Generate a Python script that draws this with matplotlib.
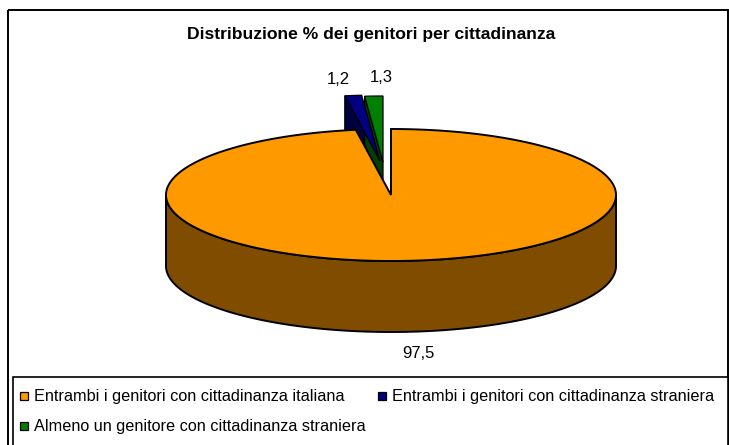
import numpy as np
import matplotlib
matplotlib.use('Agg')
import matplotlib.pyplot as plt
from matplotlib.patches import Polygon, Rectangle

plt.rcParams['font.family'] = ['Liberation Sans', 'DejaVu Sans']

title = 'Distribuzione % dei genitori per cittadinanza'
labels = ['Entrambi i genitori con cittadinanza italiana',
          'Entrambi i genitori con cittadinanza straniera',
          'Almeno un genitore con cittadinanza straniera']
values = [97.5, 1.2, 1.3]
value_labels = ['97,5', '1,2', '1,3']
colors = ['#FF9900', '#000080', '#008000']
side_colors = ['#804D00', '#000040', '#004000']

W, H = 729, 445
rx, ry, depth = 225, 66, 71
cx, cy = 391, 195
# where each small slice tip ends up once pulled out of the pie
tips = [(cx, cy), (380, 161), (383, 162)]

fig = plt.figure(figsize=(W / 100, H / 100), dpi=100)
ax = fig.add_axes([0, 0, 1, 1])
ax.set_xlim(0, W)
ax.set_ylim(H, 0)
ax.axis('off')


def rim(tip, a):
    # a in degrees clockwise from 12 o'clock
    a = np.radians(a)
    return np.column_stack([tip[0] + rx * np.sin(a), tip[1] - ry * np.cos(a)])


bounds = np.cumsum([0] + values) * 3.6

# small slices first, the orange one covers their lower part
for i in [1, 2]:
    tip = tips[i]
    p0 = rim(tip, bounds[i])[0]
    ax.add_patch(Polygon([p0, tip, (tip[0], tip[1] + depth), (p0[0], p0[1] + depth)],
                         fc=side_colors[i], ec='black', lw=0.9, zorder=2))
    arc = rim(tip, np.linspace(bounds[i], bounds[i + 1], 10))
    ax.add_patch(Polygon(np.vstack([[tip], arc]), fc=colors[i], ec='black', lw=0.9, zorder=3))

# side wall of the big slice, only the front half shows
a = np.linspace(90, 270, 200)
front = rim((cx, cy), a)
wall = np.vstack([front, (front + [0, depth])[::-1]])
ax.add_patch(Polygon(wall, fc=side_colors[0], ec='black', lw=1.4, zorder=4))

# top of the big slice
arc = rim((cx, cy), np.linspace(bounds[0], bounds[1], 400))
ax.add_patch(Polygon(np.vstack([[(cx, cy)], arc]), fc=colors[0], ec='black', lw=1.4, zorder=5))

ax.text(371, 35, title, fontsize=12.6, fontweight='bold', ha='center', va='center', zorder=6)
ax.text(418, 354, value_labels[0], fontsize=12, ha='center', va='center')
ax.text(338, 80, value_labels[1], fontsize=12, ha='center', va='center')
ax.text(381, 78, value_labels[2], fontsize=12, ha='center', va='center')

# chart frame and legend box, both run off the bottom of the picture
ax.add_patch(Rectangle((8, 10), 720, 445, fc='none', ec='black', lw=1.4, zorder=1))
ax.add_patch(Rectangle((13, 377), 715, 80, fc='white', ec='black', lw=1.2, zorder=6))

legend_pos = [(20, 396), (378, 396), (20, 426)]
for (x, y), lab, c in zip(legend_pos, labels, colors):
    ax.add_patch(Rectangle((x, y - 4), 8, 8, fc=c, ec='black', lw=0.9, zorder=7))
    ax.text(x + 14, y, lab, fontsize=11.7, ha='left', va='center', zorder=7)

fig.savefig('out.png', dpi=100)
